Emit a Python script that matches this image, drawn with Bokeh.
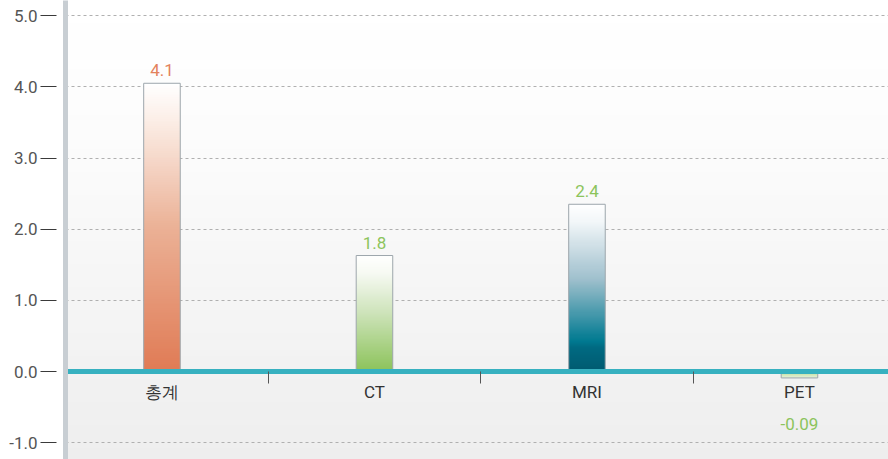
import numpy as np
from bokeh.plotting import figure
from bokeh.models import FixedTicker, PrintfTickFormatter, ColumnDataSource, Range1d
from bokeh.core.properties import value
from bokeh.embed import file_html
from bokeh.resources import INLINE

# ---- data ----
categories = ["총계", "CT", "MRI", "PET"]
values = [4.05, 1.63, 2.35, -0.09]
value_labels = ["4.1", "1.8", "2.4", "-0.09"]
y_ticks = [-1, 0, 1, 2, 3, 4, 5]

# ---- styles ----
label_colors = ["#e3825d", "#8cc45c", "#8cc45c", "#8cc45c"]
bar_stops = [
    [(0.0, "#e07b55"), (0.5, "#ebb196"), (0.88, "#fcefe8"), (1.0, "#ffffff")],
    [(0.0, "#8cc35a"), (0.5, "#cde3b9"), (0.85, "#f7faf3"), (1.0, "#ffffff")],
    [(0.0, "#005a70"), (0.14, "#006a82"), (0.18, "#007a91"), (0.55, "#9fc0cd"), (0.9, "#f3f7f9"), (1.0, "#ffffff")],
    [(0.0, "#e9f3de"), (1.0, "#b6da8a")],
]
BAR_W = 0.172
FONT = "Roboto"
X_START, X_END = -0.454, 3.419
Y_START, Y_END = -1.236, 5.213


def hex_rgb(h):
    h = h.lstrip("#")
    return [int(h[i:i + 2], 16) for i in (0, 2, 4)]


def gradient(stops, n=160, cols=2):
    pos = np.array([s[0] for s in stops])
    rgb = np.array([hex_rgb(s[1]) for s in stops], dtype=float)
    t = np.linspace(0, 1, n)
    img = np.empty((n, cols), dtype=np.uint32)
    view = img.view(dtype=np.uint8).reshape((n, cols, 4))
    for c in range(3):
        view[:, :, c] = np.interp(t, pos, rgb[:, c]).round().astype(np.uint8)[:, None]
    view[:, :, 3] = 255
    return img


p = figure(
    width=888, height=459,
    x_range=Range1d(X_START, X_END), y_range=Range1d(Y_START, Y_END),
    output_backend="svg", toolbar_location=None,
    min_border_left=65, min_border_right=0, min_border_top=0, min_border_bottom=0,
)
p.outline_line_color = None
p.border_fill_color = "#ffffff"

# background gradient
bg = gradient([(0.0, "#eeeeee"), (0.35, "#f5f5f5"), (0.7, "#fcfcfc"), (1.0, "#ffffff")])
p.image_rgba(image=[bg], x=X_START, y=Y_START, dw=X_END - X_START, dh=Y_END - Y_START, level="image")

xs = list(range(len(categories)))

# bars (gradient fill + outline)
src = ColumnDataSource(dict(
    image=[gradient(s) for s in bar_stops],
    x=[x - BAR_W / 2 for x in xs],
    y=[min(v, 0) for v in values],
    dw=[BAR_W] * len(values),
    dh=[abs(v) for v in values],
))
p.image_rgba(image="image", x="x", y="y", dw="dw", dh="dh", source=src)
p.vbar(x=xs, width=BAR_W, top=values, bottom=0, fill_color=None,
       line_color="#9da6ac", line_width=1)

# value labels
pos = [i for i, v in enumerate(values) if v >= 0]
neg = [i for i, v in enumerate(values) if v < 0]
p.text(x=[xs[i] for i in pos], y=[values[i] for i in pos], text=[value_labels[i] for i in pos],
       text_color=[label_colors[i] for i in pos], text_align="center", text_baseline="bottom",
       y_offset=-7, text_font=value(FONT), text_font_size="17px")
p.text(x=[xs[i] for i in neg], y=[values[i] for i in neg], text=[value_labels[i] for i in neg],
       text_color=[label_colors[i] for i in neg], text_align="center", text_baseline="top",
       y_offset=40, text_font=value(FONT), text_font_size="17px")

# x axis at zero
xa = p.xaxis[0]
xa.fixed_location = 0
xa.ticker = FixedTicker(ticks=xs, minor_ticks=[x + 0.5 for x in xs[:-1]])
xa.major_label_overrides = {x: c for x, c in zip(xs, categories)}
xa.axis_line_color = "#37b1c0"
xa.axis_line_width = 5
xa.major_tick_line_color = None
xa.major_tick_in = 0
xa.major_tick_out = 0
xa.minor_tick_in = 0
xa.minor_tick_out = 12
xa.minor_tick_line_color = "#555555"
xa.major_label_standoff = -2
xa.major_label_text_font = FONT
xa.major_label_text_font_size = "17px"
xa.major_label_text_color = "#333333"

# y axis
ya = p.yaxis[0]
ya.ticker = FixedTicker(ticks=y_ticks)
ya.formatter = PrintfTickFormatter(format="%.1f")
ya.axis_line_color = "#c8ced3"
ya.axis_line_width = 5
ya.major_tick_in = -9
ya.major_tick_out = 25
ya.major_tick_line_color = "#3a3a3a"
ya.major_tick_line_width = 1.2
ya.minor_tick_line_color = None
ya.major_label_standoff = 3
ya.major_label_text_font = FONT
ya.major_label_text_font_size = "17px"
ya.major_label_text_color = "#555555"

p.xgrid.visible = False
p.ygrid.ticker = FixedTicker(ticks=y_ticks)
p.ygrid.grid_line_color = "#b0b0b0"
p.ygrid.grid_line_dash = "3 3"
p.ygrid.grid_line_width = 1

open("out.html", "w").write(file_html(p, INLINE))
